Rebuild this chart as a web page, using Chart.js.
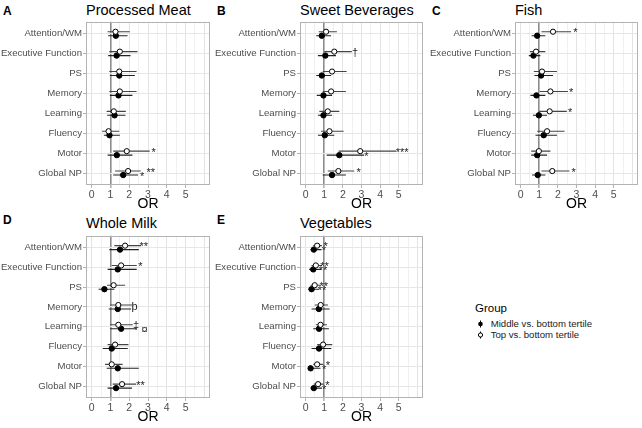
<!DOCTYPE html>
<html><head><meta charset="utf-8">
<script src="https://cdn.jsdelivr.net/npm/chart.js@4.4.1/dist/chart.umd.min.js"></script>
<style>
body{margin:0;background:#fff;width:642px;height:428px;position:relative;overflow:hidden;font-family:'Liberation Sans',Arial,sans-serif;}
.panel{position:absolute;}
.ttl{position:absolute;font-size:14.5px;line-height:14.5px;color:#000;white-space:nowrap;}
.tag{position:absolute;font-size:12px;line-height:12px;font-weight:bold;color:#000;}
.lg{position:absolute;white-space:nowrap;color:#1a1a1a;}
</style></head><body>
<div class="tag" style="left:3px;top:5px">A</div>
<div class="tag" style="left:217px;top:5px">B</div>
<div class="tag" style="left:432px;top:5px">C</div>
<div class="tag" style="left:3px;top:214px">D</div>
<div class="tag" style="left:217px;top:214px">E</div>
<div class="ttl" style="left:86px;top:2.7px">Processed Meat</div>
<div class="ttl" style="left:300px;top:2.7px">Sweet Beverages</div>
<div class="ttl" style="left:515px;top:2.7px">Fish</div>
<div class="ttl" style="left:86px;top:215.7px">Whole Milk</div>
<div class="ttl" style="left:300px;top:215.7px">Vegetables</div>

<div class="panel" style="left:0px;top:15px;width:215px;height:200px"><canvas id="cA"></canvas></div>
<div class="panel" style="left:214px;top:15px;width:214px;height:200px"><canvas id="cB"></canvas></div>
<div class="panel" style="left:429px;top:15px;width:214px;height:200px"><canvas id="cC"></canvas></div>
<div class="panel" style="left:0px;top:229px;width:215px;height:199px"><canvas id="cD"></canvas></div>
<div class="panel" style="left:214px;top:229px;width:214px;height:199px"><canvas id="cE"></canvas></div>

<div class="lg" style="left:475px;top:303px;font-size:11.5px;line-height:11.5px;color:#000">Group</div>
<svg style="position:absolute;left:475.5px;top:318px" width="10" height="24">
  <line x1="4.5" y1="2.5" x2="4.5" y2="9.5" stroke="#000" stroke-width="1"/>
  <circle cx="4.5" cy="6" r="2.3" fill="#000"/>
  <line x1="4.5" y1="13.5" x2="4.5" y2="20.5" stroke="#000" stroke-width="1"/>
  <circle cx="4.5" cy="17" r="2.1" fill="#fff" stroke="#000" stroke-width="1"/>
</svg>
<div class="lg" style="left:490.7px;top:319.2px;font-size:9.6px;line-height:9.6px">Middle vs. bottom tertile</div>
<div class="lg" style="left:490.7px;top:330.2px;font-size:9.6px;line-height:9.6px">Top vs. bottom tertile</div>

<script>
const categories = ["Attention/WM","Executive Function","PS","Memory","Learning","Fluency","Motor","Global NP"];
const xTickLabels = ["0","1","2","3","4","5"];
const xGridValues = [0,0.5,1,1.5,2,2.5,3,3.5,4,4.5,5,5.5,6];
const refOR = 1;

// A: Processed Meat
const meatTopOR = [1.27,1.50,1.47,1.50,1.18,0.90,1.87,1.94];
const meatTopLo = [0.85,0.94,0.94,0.94,0.80,0.55,1.15,1.25];
const meatTopHi = [2.03,2.44,2.39,2.39,1.82,1.47,3.09,2.61];
const meatMidOR = [1.29,1.33,1.47,1.43,1.22,0.95,1.34,1.68];
const meatMidLo = [0.88,0.88,0.97,0.97,0.83,0.65,0.85,1.15];
const meatMidHi = [1.91,2.07,2.30,2.17,1.80,1.50,2.17,2.47];
const meatTopSig = ["","","","","","","*","**"];
const meatTopSigX = [0,0,0,0,0,0,3.30,3.15];
const meatMidSig = ["","","","","","","","*"];
const meatMidSigX = [0,0,0,0,0,0,0,2.69];

// B: Sweet Beverages
const bevTopOR = [1.10,1.54,1.42,1.37,1.19,1.28,2.93,1.76];
const bevTopLo = [0.71,1.01,0.92,0.92,0.74,0.83,1.77,1.19];
const bevTopHi = [1.68,2.48,2.20,2.16,1.81,2.04,4.86,2.61];
const bevMidOR = [0.87,1.06,0.87,0.96,0.96,1.03,1.81,1.42];
const bevMidLo = [0.57,0.66,0.57,0.60,0.66,0.66,1.13,0.92];
const bevMidHi = [1.37,1.63,1.37,1.42,1.42,1.54,3.14,2.16];
const bevTopSig = ["","†","","","","","***","*"];
const bevTopSigX = [0,2.66,0,0,0,0,5.18,2.84];
const bevMidSig = ["","","","","","","*",""];
const bevMidSigX = [0,0,0,0,0,0,3.26,0];

// C: Fish
const fishTopOR = [1.74,0.83,1.15,1.60,1.56,1.42,0.98,1.70];
const fishTopLo = [1.12,0.50,0.71,1.03,0.99,0.89,0.57,1.12];
const fishTopHi = [2.71,1.33,1.95,2.54,2.48,2.36,1.60,2.62];
const fishMidOR = [0.89,0.69,1.10,0.85,0.98,1.24,0.89,0.92];
const fishMidLo = [0.59,0.44,0.74,0.53,0.66,0.80,0.57,0.62];
const fishMidHi = [1.33,1.06,1.74,1.33,1.42,1.95,1.42,1.33];
const fishTopSig = ["*","","","*","*","","","*"];
const fishTopSigX = [2.94,0,0,2.71,2.66,0,0,2.84];
const fishMidSig = ["","","","","","","",""];
const fishMidSigX = [0,0,0,0,0,0,0,0];

// D: Whole Milk
const milkTopOR = [1.78,1.57,1.17,1.42,1.42,1.25,1.07,1.62];
const milkTopLo = [1.21,1.07,0.82,0.98,0.98,0.85,0.71,1.12];
const milkTopHi = [2.63,2.40,1.78,2.15,2.19,1.96,1.65,2.37];
const milkMidOR = [1.51,1.39,0.68,1.39,1.57,1.07,1.39,1.30];
const milkMidLo = [0.94,0.85,0.37,0.91,0.98,0.59,0.80,0.85];
const milkMidHi = [2.51,2.40,1.21,2.10,2.40,1.92,2.51,2.15];
const milkTopSig = ["**","*","","þ","‡","","","**"];
const milkTopSigX = [2.78,2.60,0,2.28,2.37,0,0,2.60];
const milkMidSig = ["","","","","¤","","",""];
const milkMidSigX = [0,0,0,0,2.82,0,0,0];

// E: Vegetables
const vegTopOR = [0.62,0.55,0.49,0.81,0.80,0.94,0.62,0.67];
const vegTopLo = [0.41,0.32,0.27,0.49,0.55,0.62,0.41,0.44];
const vegTopHi = [0.88,0.88,0.80,1.20,1.15,1.43,0.94,0.97];
const vegMidOR = [0.44,0.41,0.32,0.71,0.72,0.72,0.27,0.44];
const vegMidLo = [0.27,0.19,0.14,0.32,0.41,0.32,0.14,0.27];
const vegMidHi = [0.85,0.85,0.72,1.29,1.25,1.38,0.80,0.88];
const vegTopSig = ["*","**","**","","","","*","*"];
const vegTopSigX = [1.07,1.02,0.97,0,0,0,1.20,1.17];
const vegMidSig = ["*","**","**","","","","*","*"];
const vegMidSigX = [0.98,0.94,0.88,0,0,0,0.99,0.99];

const FONT = "'Liberation Sans', Arial, sans-serif";
const OFF = 0.1;

const boxPlugin = {
  id: 'box',
  beforeDatasetsDraw(chart) {
    const {ctx, chartArea: a} = chart;
    ctx.save();
    ctx.strokeStyle = '#b3b3b3';
    ctx.lineWidth = 1;
    ctx.strokeRect(Math.round(a.left) + 0.5, Math.round(a.top) + 0.5,
      Math.round(a.right - a.left) - 1, Math.round(a.bottom - a.top) - 1);
    ctx.restore();
  }
};

const sigPlugin = {
  id: 'sig',
  afterDatasetsDraw(chart, args, opts) {
    const {ctx, scales} = chart;
    ctx.save();
    ctx.fillStyle = '#222';
    ctx.font = "11px " + FONT;
    ctx.textAlign = 'center';
    ctx.textBaseline = 'alphabetic';
    const draw = (labels, xs, off) => {
      labels.forEach((t, i) => {
        if (!t) return;
        const px = scales.x.getPixelForValue(xs[i]);
        const py = scales.y.getPixelForValue(i + 1 + off);
        ctx.fillText(t, px, py + 4.5);
      });
    };
    draw(opts.topSig, opts.topSigX, -OFF);
    draw(opts.midSig, opts.midSigX, OFF);
    ctx.restore();
  }
};

function makePanel(id, d, rightPad) {
  const ctx = document.getElementById(id).getContext('2d');
  new Chart(ctx, {
    type: 'scatter',
    data: {
      datasets: [
        {
          type: 'scatter', label: 'Top vs. bottom tertile', order: 1,
          data: d.topOR.map((v, i) => ({x: v, y: i + 1 - OFF})),
          pointStyle: 'circle', pointRadius: 2.6, pointBackgroundColor: '#fff',
          pointBorderColor: '#000', pointBorderWidth: 1
        },
        {
          type: 'scatter', label: 'Middle vs. bottom tertile', order: 2,
          data: d.midOR.map((v, i) => ({x: v, y: i + 1 + OFF})),
          pointStyle: 'circle', pointRadius: 2.7, pointBackgroundColor: '#000',
          pointBorderColor: '#000', pointBorderWidth: 1
        },
        {
          type: 'bar', indexAxis: 'y', grouped: false, order: 3,
          maxBarThickness: 1.1, borderWidth: 0,
          data: d.topLo.map((v, i) => ({x: [v, d.topHi[i]], y: i + 1 - OFF})),
          backgroundColor: '#444'
        },
        {
          type: 'bar', indexAxis: 'y', grouped: false, order: 4,
          maxBarThickness: 1.1, borderWidth: 0,
          data: d.midLo.map((v, i) => ({x: [v, d.midHi[i]], y: i + 1 + OFF})),
          backgroundColor: '#222'
        }
      ]
    },
    options: {
      responsive: true,
      maintainAspectRatio: false,
      animation: false,
      events: [],
      layout: {padding: {left: 0, right: rightPad, top: 5, bottom: 0}},
      plugins: {
        legend: {display: false},
        tooltip: {enabled: false},
        title: {display: false},
        sig: d
      },
      scales: {
        x: {
          type: 'linear', position: 'bottom', min: -0.3, max: 6.3,
          offset: false, beginAtZero: false,
          afterBuildTicks: s => { s.ticks = xGridValues.map(v => ({value: v})); },
          afterFit: s => { s.height = 30; },
          ticks: {
            autoSkip: false, maxRotation: 0, padding: 1,
            color: '#4d4d4d', font: {family: FONT, size: 10.5},
            callback: v => (Number.isInteger(v) && v <= 5) ? xTickLabels[v] : ''
          },
          grid: {
            offset: false,
            tickLength: 3,
            color: c => c.tick && c.tick.value === refOR ? '#8c8c8c' : (Number.isInteger(c.tick && c.tick.value) ? '#e3e3e3' : '#f0f0f0'),
            lineWidth: c => c.tick && c.tick.value === refOR ? 1.6 : 1,
            tickColor: c => (c.tick && Number.isInteger(c.tick.value) && c.tick.value <= 5) ? '#b3b3b3' : 'rgba(0,0,0,0)'
          },
          border: {display: false},
          title: {display: true, text: 'OR', color: '#000', font: {family: FONT, size: 14}, padding: {top: 0, bottom: 2}}
        },
        y: {
          type: 'linear', position: 'left', reverse: true, min: 0.4, max: 8.6,
          offset: false,
          afterBuildTicks: s => { s.ticks = categories.map((c, i) => ({value: i + 1})); },
          afterFit: s => { s.width = 86; },
          ticks: {
            autoSkip: false, padding: 1, color: '#4d4d4d',
            font: {family: FONT, size: 9.6},
            callback: v => categories[v - 1]
          },
          grid: {offset: false, tickLength: 3, color: '#e6e6e6', tickColor: '#b3b3b3'},
          border: {display: false}
        }
      }
    },
    plugins: [boxPlugin, sigPlugin]
  });
}

makePanel('cA', {topOR: meatTopOR, topLo: meatTopLo, topHi: meatTopHi, midOR: meatMidOR, midLo: meatMidLo, midHi: meatMidHi,
  topSig: meatTopSig, topSigX: meatTopSigX, midSig: meatMidSig, midSigX: meatMidSigX}, 5);
makePanel('cB', {topOR: bevTopOR, topLo: bevTopLo, topHi: bevTopHi, midOR: bevMidOR, midLo: bevMidLo, midHi: bevMidHi,
  topSig: bevTopSig, topSigX: bevTopSigX, midSig: bevMidSig, midSigX: bevMidSigX}, 5);
makePanel('cC', {topOR: fishTopOR, topLo: fishTopLo, topHi: fishTopHi, midOR: fishMidOR, midLo: fishMidLo, midHi: fishMidHi,
  topSig: fishTopSig, topSigX: fishTopSigX, midSig: fishMidSig, midSigX: fishMidSigX}, 5);
makePanel('cD', {topOR: milkTopOR, topLo: milkTopLo, topHi: milkTopHi, midOR: milkMidOR, midLo: milkMidLo, midHi: milkMidHi,
  topSig: milkTopSig, topSigX: milkTopSigX, midSig: milkMidSig, midSigX: milkMidSigX}, 5);
makePanel('cE', {topOR: vegTopOR, topLo: vegTopLo, topHi: vegTopHi, midOR: vegMidOR, midLo: vegMidLo, midHi: vegMidHi,
  topSig: vegTopSig, topSigX: vegTopSigX, midSig: vegMidSig, midSigX: vegMidSigX}, 5);
</script>
</body></html>
